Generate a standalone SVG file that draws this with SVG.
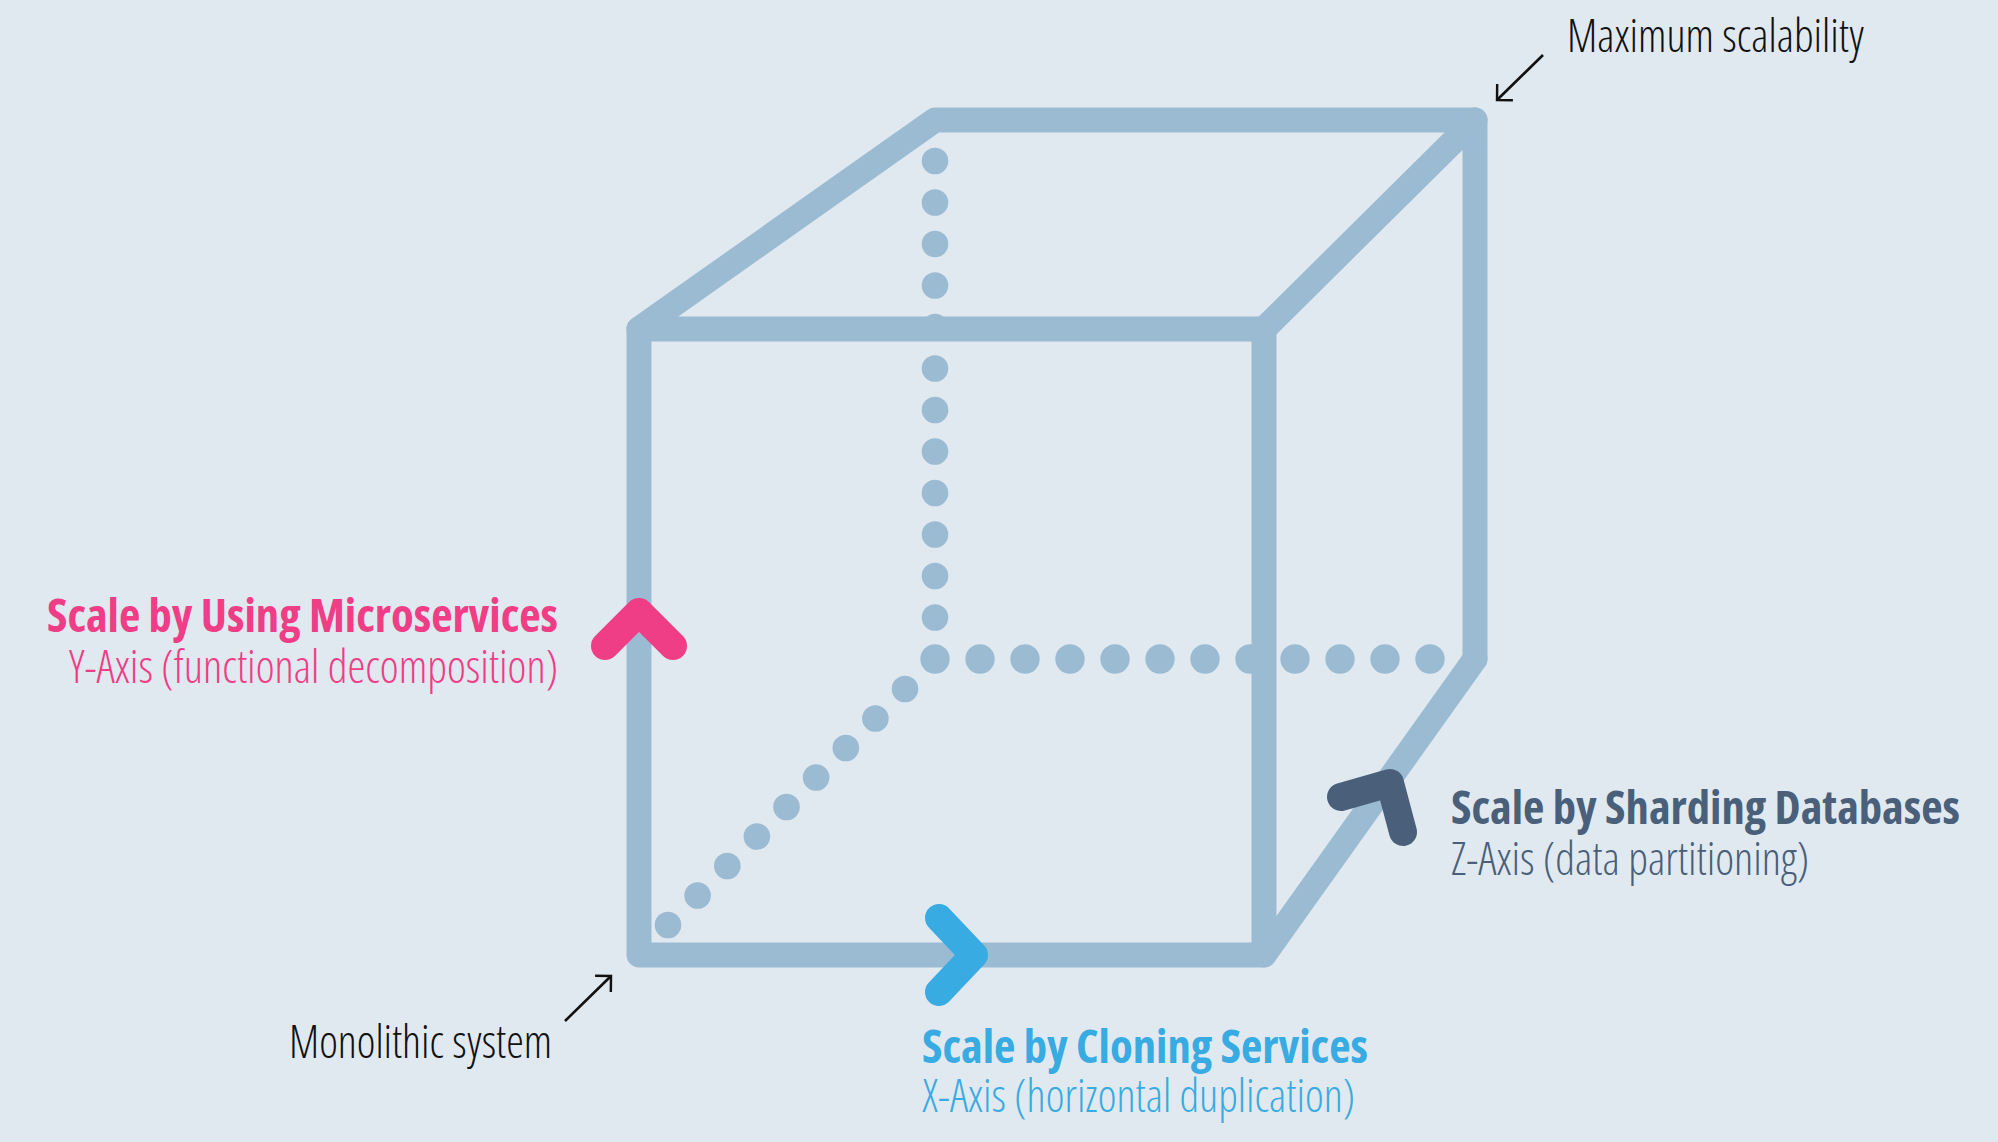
<svg xmlns="http://www.w3.org/2000/svg" width="1998" height="1142" viewBox="0 0 1998 1142">
<defs>
<style>
.edge{fill:none;stroke:#9bbbd3;stroke-width:25;stroke-linecap:round;stroke-linejoin:round}
.dot{fill:#9bbbd3}
.chev{fill:none;stroke-width:28;stroke-linecap:round;stroke-linejoin:round}
.note{fill:none;stroke:#111;stroke-width:2.6}
.t{font-family:"Open Sans","Liberation Sans",sans-serif;font-size:46px;font-stretch:condensed}
.b{font-weight:700}
.l{font-weight:300}
</style>
<marker id="arr" markerUnits="userSpaceOnUse" markerWidth="30" markerHeight="30" viewBox="-16 -16 32 32" refX="0" refY="0" orient="auto" overflow="visible">
<path d="M-12,-12 L0,0 L-12,12" fill="none" stroke="#111" stroke-width="2.6"/>
</marker>
</defs>
<rect width="1998" height="1142" fill="#e1e9f0"/>

<g id="hidden-edges">
<g class="dot">
<circle cx="935" cy="161" r="13.3"/><circle cx="935" cy="202.5" r="13.3"/><circle cx="935" cy="244" r="13.3"/><circle cx="935" cy="285.5" r="13.3"/><circle cx="935" cy="327" r="13.3"/><circle cx="935" cy="368.5" r="13.3"/><circle cx="935" cy="410" r="13.3"/><circle cx="935" cy="451.5" r="13.3"/><circle cx="935" cy="493" r="13.3"/><circle cx="935" cy="534.5" r="13.3"/><circle cx="935" cy="576" r="13.3"/><circle cx="935" cy="617.5" r="13.3"/>
<circle cx="935" cy="659" r="14.7"/>
<circle cx="980" cy="659" r="14.7"/><circle cx="1025" cy="659" r="14.7"/><circle cx="1070" cy="659" r="14.7"/><circle cx="1115" cy="659" r="14.7"/><circle cx="1160" cy="659" r="14.7"/><circle cx="1205" cy="659" r="14.7"/><circle cx="1250" cy="659" r="14.7"/><circle cx="1295" cy="659" r="14.7"/><circle cx="1340" cy="659" r="14.7"/><circle cx="1385" cy="659" r="14.7"/><circle cx="1430" cy="659" r="14.7"/>
<circle cx="668" cy="925" r="13.3"/><circle cx="697.6" cy="895.5" r="13.3"/><circle cx="727.3" cy="866" r="13.3"/><circle cx="756.9" cy="836.5" r="13.3"/><circle cx="786.5" cy="807" r="13.3"/><circle cx="816.1" cy="777.5" r="13.3"/><circle cx="845.8" cy="748" r="13.3"/><circle cx="875.4" cy="718.5" r="13.3"/><circle cx="905" cy="689" r="13.3"/>
</g>
</g>

<g id="cube">
<polyline class="edge" points="639,329 935,120 1475,120 1475,659"/>
<line class="edge" x1="1264" y1="329" x2="1475" y2="120"/>
<line class="edge" x1="1264" y1="955" x2="1475" y2="659"/>
<rect class="edge" x="639" y="329" width="625" height="626"/>
</g>

<g id="connectors">
<line class="note" x1="1543" y1="55" x2="1497" y2="100" marker-end="url(#arr)"/>
<line class="note" x1="565" y1="1021" x2="611" y2="976" marker-end="url(#arr)"/>
</g>

<g id="y-axis">
<polyline class="chev" stroke="#ef3d86" points="605,646 639,612 673,646"/>
<text class="t b" x="558" y="632" text-anchor="end" fill="#ef3d86" textLength="511" lengthAdjust="spacingAndGlyphs">Scale by Using Microservices</text>
<text class="t l" x="558" y="683" text-anchor="end" fill="#ef3d86" textLength="489" lengthAdjust="spacingAndGlyphs">Y-Axis (functional decomposition)</text>
</g>

<g id="x-axis">
<polyline class="chev" stroke="#38abe2" points="939,918 974,955 939,992"/>
<text class="t b" x="922" y="1063" fill="#38abe2" textLength="446" lengthAdjust="spacingAndGlyphs">Scale by Cloning Services</text>
<text class="t l" x="922" y="1112" fill="#38abe2" textLength="433" lengthAdjust="spacingAndGlyphs">X-Axis (horizontal duplication)</text>
</g>

<g id="z-axis">
<polyline class="chev" stroke="#4a5f7a" points="1341,797 1390,783 1403,832"/>
<text class="t b" x="1451" y="824" fill="#4a5f7a" textLength="509" lengthAdjust="spacingAndGlyphs">Scale by Sharding Databases</text>
<text class="t l" x="1451" y="875" fill="#4a5f7a" textLength="358" lengthAdjust="spacingAndGlyphs">Z-Axis (data partitioning)</text>
</g>

<g id="maximum-scalability">
<text class="t l" x="1567" y="52" fill="#111" textLength="297" lengthAdjust="spacingAndGlyphs">Maximum scalability</text>
</g>

<g id="monolithic-system">
<text class="t l" x="289" y="1058" fill="#111" textLength="263" lengthAdjust="spacingAndGlyphs">Monolithic system</text>
</g>
</svg>
